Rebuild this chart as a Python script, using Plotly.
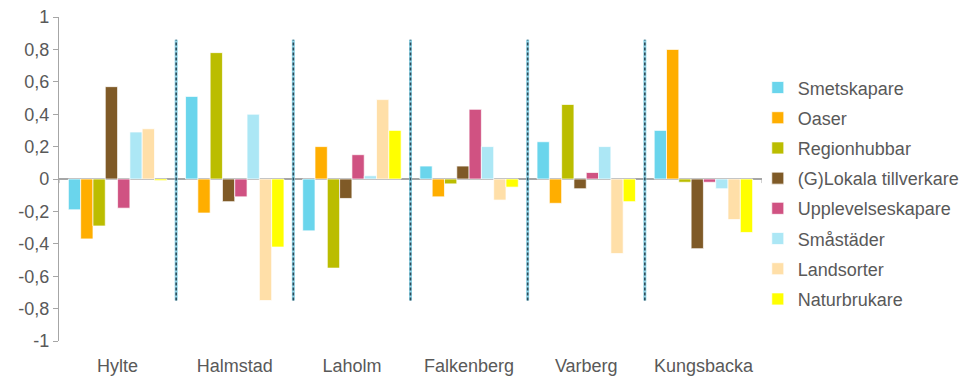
import plotly.graph_objects as go

categories = ["Hylte", "Halmstad", "Laholm", "Falkenberg", "Varberg", "Kungsbacka"]
series_names = ["Smetskapare", "Oaser", "Regionhubbar", "(G)Lokala tillverkare",
                "Upplevelseskapare", "Småstäder", "Landsorter", "Naturbrukare"]
colors = ["#6AD5EC", "#FFAE00", "#BBBD00", "#7F5A27", "#D05282", "#ACE7F5", "#FFDFA8", "#FFFF00"]

smetskapare   = [-0.19, 0.51, -0.32, 0.08, 0.23, 0.30]
oaser         = [-0.37, -0.21, 0.20, -0.11, -0.15, 0.80]
regionhubbar  = [-0.29, 0.78, -0.55, -0.03, 0.46, -0.02]
lokala        = [0.57, -0.14, -0.12, 0.08, -0.06, -0.43]
upplevelse    = [-0.18, -0.11, 0.15, 0.43, 0.04, -0.02]
smastader     = [0.29, 0.40, 0.02, 0.20, 0.20, -0.06]
landsorter    = [0.31, -0.75, 0.49, -0.13, -0.46, -0.25]
naturbrukare  = [-0.01, -0.42, 0.30, -0.05, -0.14, -0.33]

values = [smetskapare, oaser, regionhubbar, lokala, upplevelse, smastader, landsorter, naturbrukare]

tick_vals = [1, 0.8, 0.6, 0.4, 0.2, 0, -0.2, -0.4, -0.6, -0.8, -1]
tick_text = ["1", "0,8", "0,6", "0,4", "0,2", "0", "-0,2", "-0,4", "-0,6", "-0,8", "-1"]

font_family = "Liberation Sans, Arial, sans-serif"
text_color = "#595959"

fig = go.Figure()
for i, (name, vals, col) in enumerate(zip(series_names, values, colors)):
    fig.add_trace(go.Bar(
        x=categories, y=vals, name=name, legendgroup=name,
        marker=dict(color=col, line=dict(color="rgba(255,255,255,0.7)", width=1)),
    ))

shapes = []
n = len(categories)
for k in range(n - 1):
    xb = k + 0.5
    shapes.append(dict(type="line", xref="x", yref="y", x0=xb, x1=xb, y0=-0.75, y1=0.86,
                       line=dict(color="#8FD3E6", width=3), layer="above"))
    shapes.append(dict(type="line", xref="x", yref="y", x0=xb, x1=xb, y0=-0.75, y1=0.86,
                       line=dict(color="#2E4A58", width=1.6, dash="3px,2px"), layer="above"))
for k in range(n + 1):
    xb = k - 0.5
    shapes.append(dict(type="line", xref="x", yref="y", x0=xb, x1=xb, y0=-0.025, y1=0.0,
                       line=dict(color="#A6A6A6", width=1), layer="below"))

fig.update_layout(
    width=970, height=376,
    margin=dict(l=59, r=208, t=17, b=35, autoexpand=False),
    paper_bgcolor="white", plot_bgcolor="white",
    barmode="group", bargap=0.16, bargroupgap=0,
    font=dict(family=font_family, size=18, color=text_color),
    shapes=shapes,
    legend=dict(x=0.994, y=0.8385, xanchor="left", yanchor="top",
                font=dict(size=18, color=text_color), tracegroupgap=3.8,
                itemwidth=30, bgcolor="rgba(0,0,0,0)"),
    showlegend=True,
)
fig.update_xaxes(range=[-0.5, n - 0.5], showline=False, ticks="", showgrid=False,
                 tickfont=dict(size=18, color=text_color), zeroline=False,
                 ticklabelstandoff=12, automargin=False)
fig.update_yaxes(range=[-1, 1], tickvals=tick_vals, ticktext=tick_text, showgrid=False,
                 showline=True, linecolor="#A6A6A6", linewidth=1.2, ticks="outside",
                 ticklen=5, tickcolor="#A6A6A6", zeroline=True, zerolinecolor="#A6A6A6",
                 zerolinewidth=1.5, tickfont=dict(size=18, color=text_color),
                 automargin=False)

fig.write_html("out.html")
